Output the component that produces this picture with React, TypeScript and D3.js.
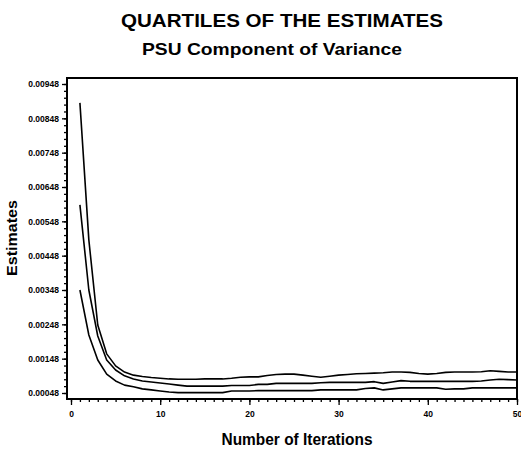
import React, { useEffect, useRef } from 'react';
import { select, scaleLinear, axisLeft, axisBottom, line, range } from 'd3';

// Iteration numbers (x)
const iterations = [
  1, 2, 3, 4, 5, 6, 7, 8, 9, 10, 11, 12, 13, 14, 15, 16, 17, 18, 19, 20, 21, 22, 23, 24, 25,
  26, 27, 28, 29, 30, 31, 32, 33, 34, 35, 36, 37, 38, 39, 40, 41, 42, 43, 44, 45, 46, 47, 48,
  49, 50,
];

// Upper quartile
const upperQ = [
  0.00893, 0.00494, 0.00246, 0.00162, 0.00127, 0.00109, 0.001, 0.00096, 0.00093, 0.00091,
  0.00089, 0.00088, 0.00088, 0.00088, 0.00089, 0.00089, 0.00089, 0.00091, 0.00094, 0.00095,
  0.00095, 0.00099, 0.00102, 0.00103, 0.00103, 0.001, 0.00097, 0.00094, 0.00097, 0.001,
  0.00102, 0.00104, 0.00105, 0.00106, 0.00107, 0.00109, 0.00109, 0.00108, 0.00105, 0.00103,
  0.00105, 0.00108, 0.00109, 0.00109, 0.00109, 0.0011, 0.00113, 0.00111, 0.00109, 0.00109,
];

// Median
const medianQ = [
  0.00596, 0.00348, 0.00214, 0.00144, 0.00115, 0.00098, 0.00089, 0.00083, 0.0008, 0.00077,
  0.00074, 0.00071, 0.00068, 0.00068, 0.00068, 0.00068, 0.00068, 0.0007, 0.0007, 0.0007,
  0.00073, 0.00073, 0.00076, 0.00076, 0.00076, 0.00076, 0.00076, 0.00078, 0.00079, 0.00079,
  0.00079, 0.00079, 0.00079, 0.00081, 0.00076, 0.0008, 0.00084, 0.00082, 0.00082, 0.00082,
  0.00082, 0.00082, 0.00082, 0.00082, 0.00082, 0.00083, 0.00086, 0.00088, 0.00087, 0.00086,
];

// Lower quartile
const lowerQ = [
  0.00348, 0.00217, 0.00144, 0.00103, 0.00083, 0.00071, 0.00066, 0.0006, 0.00057, 0.00054,
  0.00051, 0.00049, 0.00049, 0.00049, 0.00049, 0.00049, 0.00049, 0.00054, 0.00054, 0.00054,
  0.00055, 0.00055, 0.00055, 0.00055, 0.00055, 0.00055, 0.00055, 0.00057, 0.00057, 0.00057,
  0.00057, 0.00057, 0.00061, 0.00063, 0.00057, 0.0006, 0.00063, 0.00063, 0.00063, 0.00063,
  0.00063, 0.00059, 0.0006, 0.0006, 0.00063, 0.00063, 0.00063, 0.00063, 0.00063, 0.00063,
];

// Tick labels
const yTickValues = [
  0.00048, 0.00148, 0.00248, 0.00348, 0.00448, 0.00548, 0.00648, 0.00748, 0.00848, 0.00948,
];
const xTickValues = [0, 10, 20, 30, 40, 50];

const FONT = '"Liberation Sans", Arial, Helvetica, sans-serif';

const App = () => {
  const svgRef = useRef<SVGSVGElement>(null);

  useEffect(() => {
    const svg = select(svgRef.current);
    const x = scaleLinear().domain([0, 50]).range([71, 517]);
    const y = scaleLinear().domain([0.00048, 0.00948]).range([393, 84]);
    const left = 67;
    const top = 78;
    const bottom = 399;
    const right = 517;

    // frame
    svg
      .select('.frame')
      .attr('x', left)
      .attr('y', top)
      .attr('width', right - left)
      .attr('height', bottom - top)
      .attr('fill', 'none')
      .attr('stroke', '#000')
      .attr('stroke-width', 2);

    // Y axis
    const yMajor = axisLeft(y)
      .tickValues(yTickValues)
      .tickFormat((d) => (d as number).toFixed(5))
      .tickSize(5)
      .tickPadding(3);
    svg
      .select('.y-axis')
      .attr('transform', `translate(${left},0)`)
      .call(yMajor as any);
    const yMinor = axisLeft(y)
      .tickValues(range(0.00048, 0.00949, 0.0002))
      .tickFormat(() => '')
      .tickSize(3);
    svg
      .select('.y-minor')
      .attr('transform', `translate(${left},0)`)
      .call(yMinor as any);

    // X axis
    const xMajor = axisBottom(x).tickValues(xTickValues).tickSize(6).tickPadding(6);
    svg
      .select('.x-axis')
      .attr('transform', `translate(0,${bottom})`)
      .call(xMajor as any);
    const xMinor = axisBottom(x)
      .tickValues(range(0, 51, 1))
      .tickFormat(() => '')
      .tickSize(3);
    svg
      .select('.x-minor')
      .attr('transform', `translate(0,${bottom})`)
      .call(xMinor as any);

    svg.selectAll('.domain').remove();
    svg
      .selectAll('.tick line')
      .attr('stroke', '#000')
      .attr('stroke-width', 1.3);
    svg
      .selectAll('.tick text')
      .attr('fill', '#000')
      .style('font-family', FONT)
      .style('font-weight', 'bold')
      .style('font-size', '8.5px');

    // Quartile lines
    const myLine = line<number>()
      .x((_, i) => x(iterations[i]))
      .y((v) => y(v));
    svg
      .select('.lines')
      .selectAll('path')
      .data([upperQ, medianQ, lowerQ])
      .join('path')
      .attr('d', (v) => myLine(v))
      .attr('fill', 'none')
      .attr('stroke', '#000')
      .attr('stroke-width', 1.6)
      .attr('stroke-linejoin', 'round');
  }, []);

  return (
    <div className='root'>
      <svg
        ref={svgRef}
        width={521}
        height={456}
        style={{ position: 'absolute', left: 0, top: 0, background: '#fff' }}
      >
        <rect width={521} height={456} fill='#fff' />
        <text
          x={282}
          y={27}
          textAnchor='middle'
          fontFamily={FONT}
          fontWeight='bold'
          fontSize={18}
          textLength={322}
          lengthAdjust='spacingAndGlyphs'
        >
          QUARTILES OF THE ESTIMATES
        </text>
        <text
          x={272}
          y={55}
          textAnchor='middle'
          fontFamily={FONT}
          fontWeight='bold'
          fontSize={17}
          textLength={260}
          lengthAdjust='spacingAndGlyphs'
        >
          PSU Component of Variance
        </text>
        <rect className='frame' />
        <g className='y-minor' />
        <g className='y-axis' />
        <g className='x-minor' />
        <g className='x-axis' />
        <g className='lines' />
        <text
          x={297}
          y={445}
          textAnchor='middle'
          fontFamily={FONT}
          fontWeight='bold'
          fontSize={16}
          textLength={151}
          lengthAdjust='spacingAndGlyphs'
        >
          Number of Iterations
        </text>
        <text
          transform='translate(17,238) rotate(-90)'
          textAnchor='middle'
          fontFamily={FONT}
          fontWeight='bold'
          fontSize={14}
          textLength={76}
          lengthAdjust='spacingAndGlyphs'
        >
          Estimates
        </text>
      </svg>
    </div>
  );
};

export default App;
